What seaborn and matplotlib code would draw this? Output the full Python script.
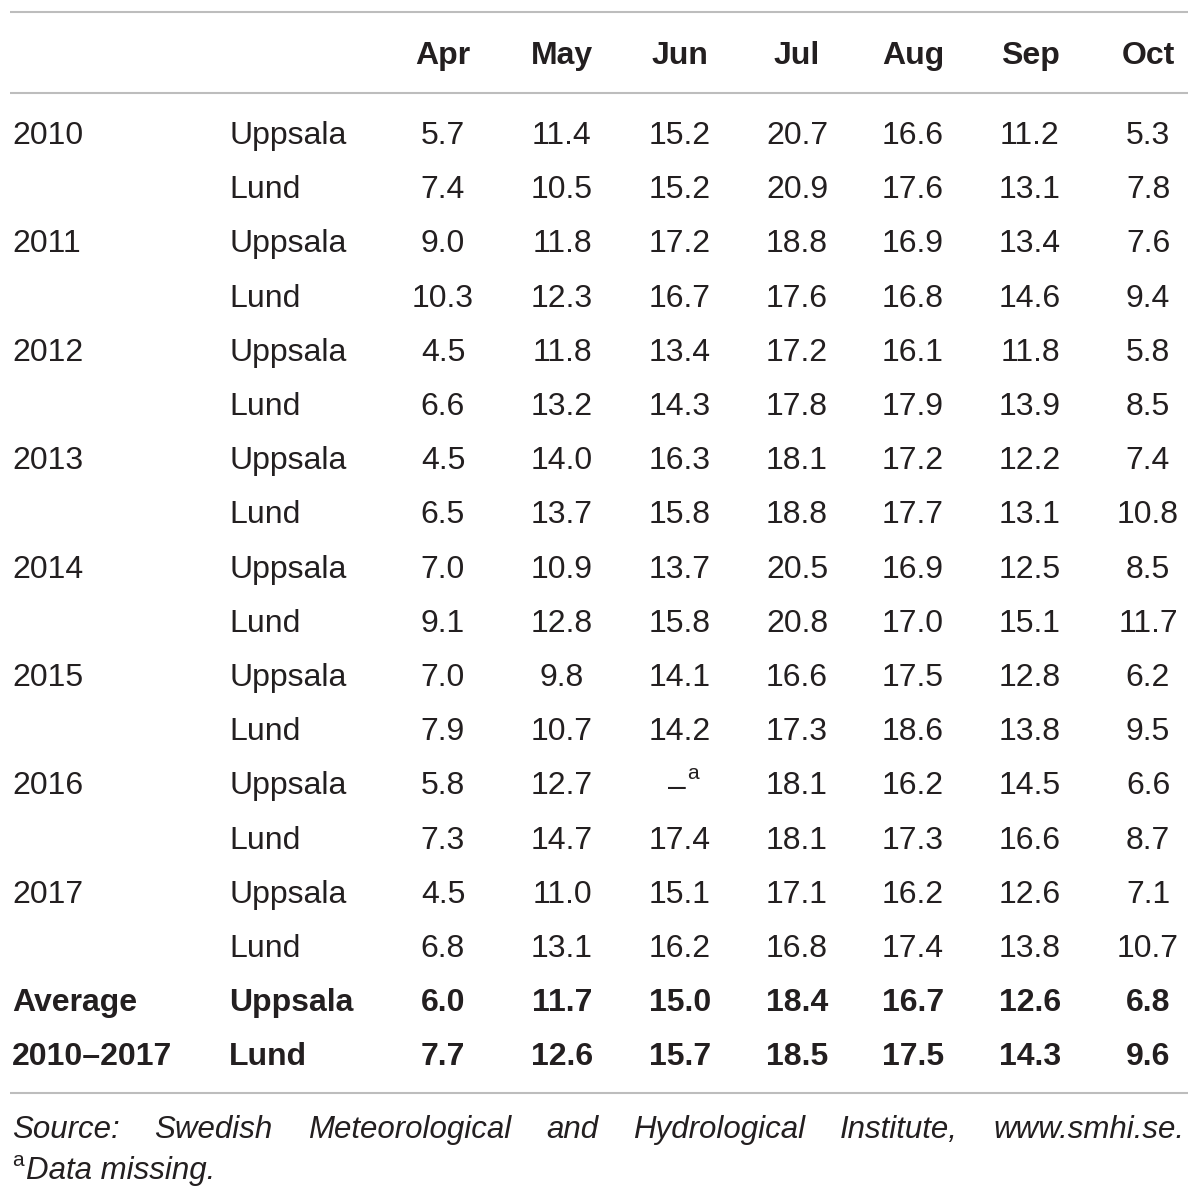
import matplotlib
matplotlib.use("Agg")
import matplotlib.pyplot as plt
import seaborn as sns

months = ["Apr", "May", "Jun", "Jul", "Aug", "Sep", "Oct"]
years = ["2010", "2011", "2012", "2013", "2014", "2015", "2016", "2017"]
sites = ["Uppsala", "Lund"]

uppsala = [
    [5.7, 11.4, 15.2, 20.7, 16.6, 11.2, 5.3],
    [9.0, 11.8, 17.2, 18.8, 16.9, 13.4, 7.6],
    [4.5, 11.8, 13.4, 17.2, 16.1, 11.8, 5.8],
    [4.5, 14.0, 16.3, 18.1, 17.2, 12.2, 7.4],
    [7.0, 10.9, 13.7, 20.5, 16.9, 12.5, 8.5],
    [7.0, 9.8, 14.1, 16.6, 17.5, 12.8, 6.2],
    [5.8, 12.7, None, 18.1, 16.2, 14.5, 6.6],
    [4.5, 11.0, 15.1, 17.1, 16.2, 12.6, 7.1],
]
lund = [
    [7.4, 10.5, 15.2, 20.9, 17.6, 13.1, 7.8],
    [10.3, 12.3, 16.7, 17.6, 16.8, 14.6, 9.4],
    [6.6, 13.2, 14.3, 17.8, 17.9, 13.9, 8.5],
    [6.5, 13.7, 15.8, 18.8, 17.7, 13.1, 10.8],
    [9.1, 12.8, 15.8, 20.8, 17.0, 15.1, 11.7],
    [7.9, 10.7, 14.2, 17.3, 18.6, 13.8, 9.5],
    [7.3, 14.7, 17.4, 18.1, 17.3, 16.6, 8.7],
    [6.8, 13.1, 16.2, 16.8, 17.4, 13.8, 10.7],
]
avg_labels = ["Average", "2010\u20132017"]
avg_uppsala = [6.0, 11.7, 15.0, 18.4, 16.7, 12.6, 6.8]
avg_lund = [7.7, 12.6, 15.7, 18.5, 17.5, 14.3, 9.6]

source_note = "Source: Swedish Meteorological and Hydrological Institute, www.smhi.se."
missing_note = "Data missing."

sns.set_theme(style="white")
plt.rcParams["font.family"] = ["Liberation Sans", "DejaVu Sans"]

ink = "#231f20"
rule = "#bdbdbd"
fs = 23

fig = plt.figure(figsize=(12, 11.99), dpi=100)
ax = fig.add_axes([0, 0, 1, 1])
ax.set_xlim(0, 1200)
ax.set_ylim(1199, 0)
ax.axis("off")

x_year = 12
x_site = 229
x_month = [443, 562, 680, 797, 913, 1030, 1148]
y_head = 53
y_first = 133
step = 54.2
base = 11  # baseline offset from row centre

# rules
for y in [12, 93, 1093]:
    ax.plot([10, 1188], [y, y], color=rule, lw=1.5, solid_capstyle="butt")

# header
for xm, m in zip(x_month, months):
    ax.text(xm, y_head + base, m, ha="center", va="baseline", fontsize=fs,
            fontweight="bold", color=ink)

def cell(v):
    return None if v is None else f"{v:.1f}"

rows = []
for i, yr in enumerate(years):
    rows.append((yr, sites[0], uppsala[i], "normal"))
    rows.append(("", sites[1], lund[i], "normal"))
rows.append((avg_labels[0], sites[0], avg_uppsala, "bold"))
rows.append((avg_labels[1], sites[1], avg_lund, "bold"))

for r, (lab, site, vals, wt) in enumerate(rows):
    yb = y_first + r * step + base
    if lab:
        ax.text(x_year, yb, lab, ha="left", va="baseline", fontsize=fs,
                fontweight=wt, color=ink)
    ax.text(x_site, yb, site, ha="left", va="baseline", fontsize=fs,
            fontweight=wt, color=ink)
    for xm, v in zip(x_month, vals):
        s = cell(v)
        if s is None:
            ax.text(xm - 3, yb + 2, "\u2013", ha="center", va="baseline",
                    fontsize=fs, color=ink)
            ax.text(xm + 7, yb - 15, "a", ha="left", va="baseline",
                    fontsize=15, color=ink)
        else:
            ax.text(xm, yb, s, ha="center", va="baseline", fontsize=fs,
                    fontweight=wt, color=ink)

# footnote, justified across the width
fig.canvas.draw()
renderer = fig.canvas.get_renderer()
words = source_note.split()
left, right = 12, 1184
y1 = 1127 + base
arts = [ax.text(0, y1, w, ha="left", va="baseline", fontsize=fs - 0.5,
                style="italic", color=ink) for w in words]
inv = ax.transData.inverted()
widths = []
for a in arts:
    bb = a.get_window_extent(renderer)
    p0 = inv.transform((bb.x0, 0))[0]
    p1 = inv.transform((bb.x1, 0))[0]
    widths.append(p1 - p0)
gap = (right - left - sum(widths)) / (len(words) - 1)
xx = left
for a, w in zip(arts, widths):
    a.set_x(xx)
    xx += w + gap

y2 = 1168 + base
ax.text(12, y2 - 13, "a", ha="left", va="baseline", fontsize=15, color=ink)
ax.text(26, y2, missing_note, ha="left", va="baseline", fontsize=fs - 0.5,
        style="italic", color=ink)

fig.savefig("out.png", dpi=100, facecolor="white")
